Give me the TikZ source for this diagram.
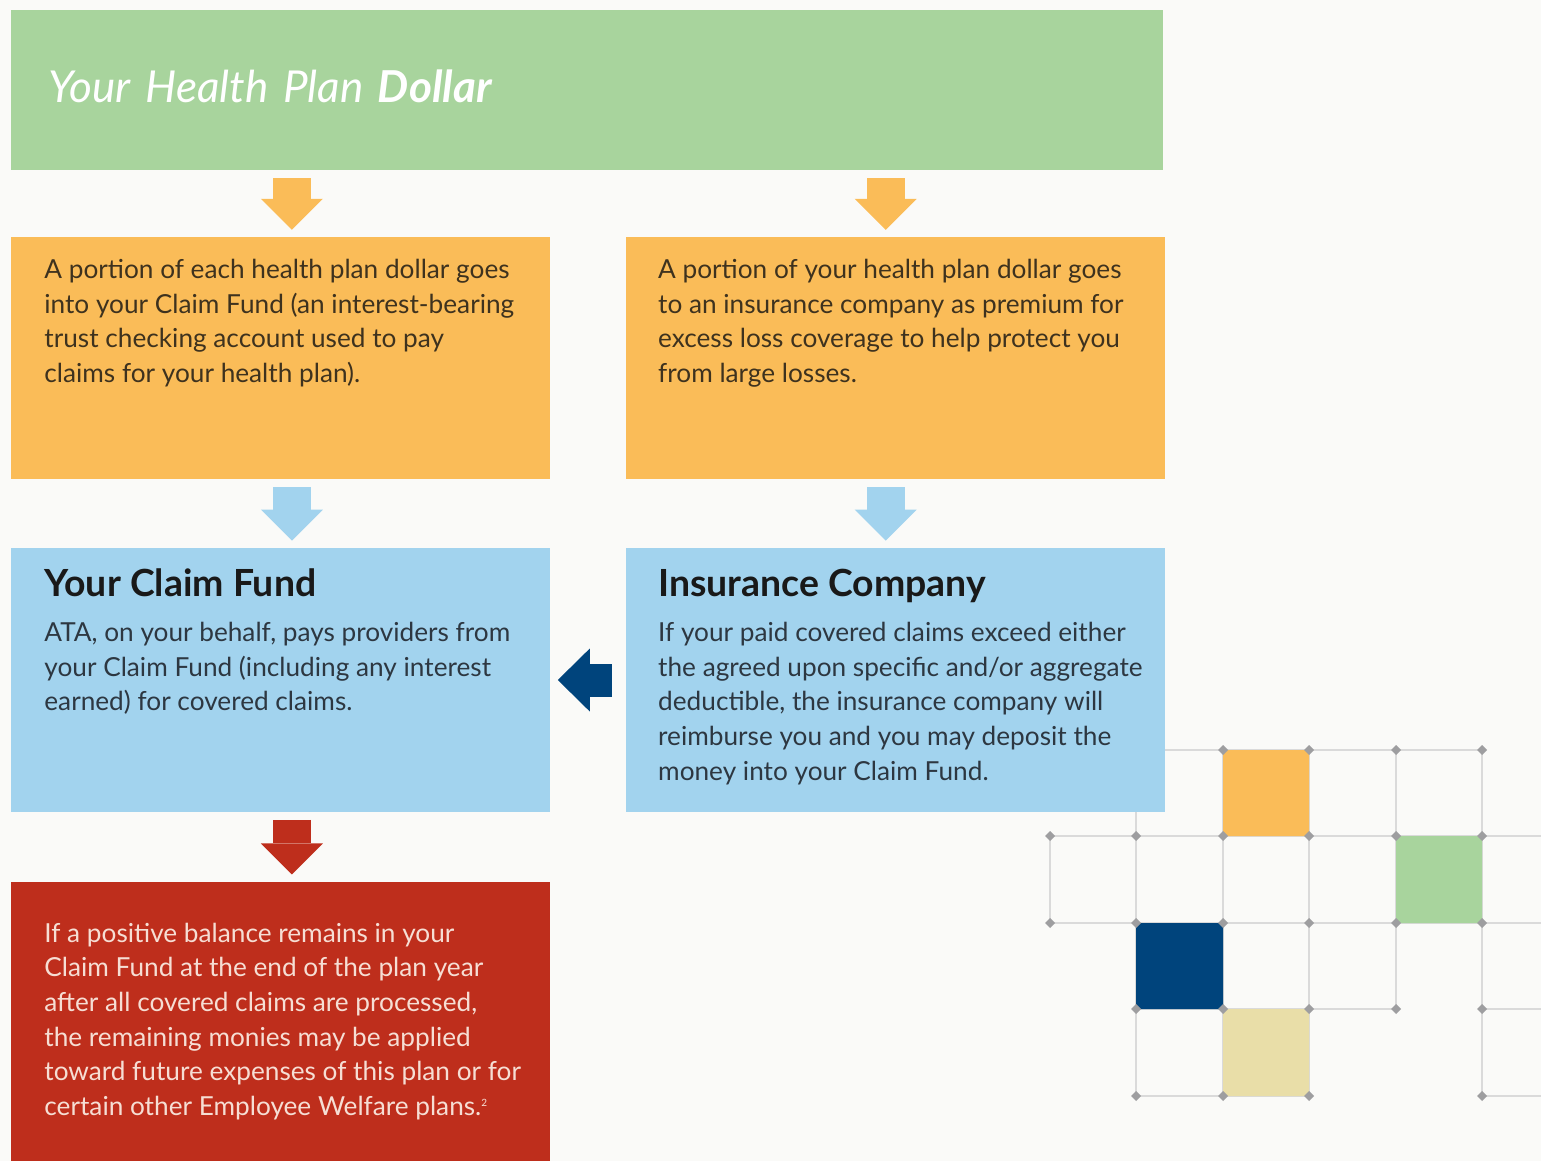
\documentclass[tikz,border=0pt]{standalone}
\usepackage{fontspec}
\setmainfont{Lato}
\usetikzlibrary{positioning,arrows.meta}

\definecolor{paper}{RGB}{250,250,248}
\definecolor{plangreen}{RGB}{168,212,157}
\definecolor{shareorange}{RGB}{250,188,88}
\definecolor{poolblue}{RGB}{162,211,238}
\definecolor{navy}{RGB}{0,68,124}
\definecolor{claimred}{RGB}{190,46,28}
\definecolor{beige}{RGB}{233,222,168}
\definecolor{shareink}{RGB}{62,50,30}
\definecolor{poolink}{RGB}{45,55,65}
\definecolor{redink}{RGB}{246,222,212}
\definecolor{gridline}{RGB}{218,218,218}
\definecolor{gridmark}{RGB}{158,158,160}

\begin{document}
\begin{tikzpicture}[
		x=0.5pt, y=-0.5pt,
		box/.style={rectangle, inner sep=0pt, minimum width=269.5pt},
		share/.style={box, fill=shareorange, minimum height=121pt},
		pool/.style={box, fill=poolblue, minimum height=132pt},
		titlebox/.style={rectangle, fill=plangreen, inner ysep=0pt, inner xsep=18.5pt, text width=539pt, align=left, minimum height=80pt, text height=15pt, text depth=3pt, text=white, font=\itshape\fontsize{22}{24}\selectfont},
		body/.style={inner sep=0pt, align=left, font=\fontsize{13.1}{17.35}\selectfont},
		head/.style={inner sep=0pt, font=\bfseries\fontsize{18.7}{21}\selectfont, text=black!90},
		flow/.style={line width=19pt, -{Triangle[width=31pt,length=15.5pt,line width=0pt]}, shorten <=3.75pt, shorten >=3.5pt},
		]
		
		% page
		\fill[paper] (0,0) rectangle (1541,1161);
		\useasboundingbox (0,0) rectangle (1541,1161);
		
		% grid in the corner
		\begin{scope}[draw=gridline, line width=1pt]
			\draw (1136,750) -- (1482,750);
			\draw (1050,836) -- (1541,836);
			\draw (1050,923) -- (1541,923);
			\draw (1136,1009) -- (1396,1009) (1482,1009) -- (1541,1009);
			\draw (1136,1096) -- (1309,1096) (1482,1096) -- (1541,1096);
			\draw (1050,836) -- (1050,923);
			\draw (1136,700) -- (1136,1096);
			\draw (1223,750) -- (1223,1096);
			\draw (1309,750) -- (1309,1096);
			\draw (1396,750) -- (1396,1009);
			\draw (1482,750) -- (1482,1096);
		\end{scope}
		\fill[shareorange, rounded corners=2pt] (1223,750) rectangle (1309,836);
		\fill[plangreen, rounded corners=2pt] (1396,836) rectangle (1482,923);
		\fill[navy, rounded corners=2pt] (1136,923) rectangle (1223,1009);
		\fill[beige, rounded corners=2pt] (1223,1009) rectangle (1309,1096);
		\foreach \x/\y in {1223/750,1309/750,1396/750,1482/750,
			1050/836,1136/836,1223/836,1309/836,1396/836,1482/836,
			1050/923,1136/923,1223/923,1309/923,1396/923,1482/923,
			1136/1009,1223/1009,1309/1009,1396/1009,1482/1009,
			1136/1096,1223/1096,1309/1096,1482/1096}
			\fill[gridmark] (\x,\y) +(-5,0) -- +(0,-5) -- +(5,0) -- +(0,5) -- cycle;
		
		% Boxes
		\node[titlebox, anchor=north west] (dollar) at (11,10) {Your Health Plan \textbf{Dollar}};
		\node[share, below=33pt of dollar.south west, anchor=north west] (claimshare) {};
		\node[share, right=37.5pt of claimshare] (premium) {};
		\node[pool, below=34pt of claimshare] (fund) {};
		\node[pool, right=37.5pt of fund] (insurer) {};
		\node[box, fill=claimred, minimum height=141pt, below=34.5pt of fund] (surplus) {};
		
		% Texts
		\node[body, text=shareink, anchor=north west] (claimshare-text) at ([shift={(16.5pt,-11pt)}]claimshare.north west)
			{A portion of each health plan dollar goes\\into your Claim Fund (an interest-bearing\\trust checking account used to pay\\claims for your health plan).};
		\node[body, text=shareink, anchor=north west] (premium-text) at ([shift={(16pt,-11pt)}]premium.north west)
			{A portion of your health plan dollar goes\\to an insurance company as premium for\\excess loss coverage to help protect you\\from large losses.};
		\node[head, anchor=north west] (fund-head) at ([shift={(16.5pt,-10.5pt)}]fund.north west) {Your Claim Fund};
		\node[body, text=poolink, anchor=north west] (fund-text) at ([shift={(16.5pt,-37pt)}]fund.north west)
			{ATA, on your behalf, pays providers from\\your Claim Fund (including any interest\\earned) for covered claims.};
		\node[head, anchor=north west] (insurer-head) at ([shift={(16pt,-10.5pt)}]insurer.north west) {Insurance Company};
		\node[body, text=poolink, anchor=north west] (insurer-text) at ([shift={(16pt,-37pt)}]insurer.north west)
			{If your paid covered claims exceed either\\the agreed upon specific and/or aggregate\\deductible, the insurance company will\\reimburse you and you may deposit the\\money into your Claim Fund.};
		\node[body, text=redink, anchor=north west] (surplus-text) at ([shift={(16.5pt,-20.5pt)}]surplus.north west)
			{If a positive balance remains in your\\Claim Fund at the end of the plan year\\after all covered claims are processed,\\the remaining monies may be applied\\toward future expenses of this plan or for\\certain other Employee Welfare plans.\textsuperscript{\tiny 2}};
		
		% Arrows
		\coordinate (lane-l) at ([xshift=5.5pt]claimshare.north);
		\coordinate (lane-r) at ([xshift=-5pt]premium.north);
		\draw[flow, shareorange] (dollar.south -| lane-l) -- (lane-l);
		\draw[flow, shareorange] (dollar.south -| lane-r) -- (lane-r);
		\draw[flow, poolblue] (claimshare.south -| lane-l) -- (fund.north -| lane-l);
		\draw[flow, poolblue] (premium.south -| lane-r) -- (insurer.north -| lane-r);
		\draw[flow, claimred] (fund.south -| lane-l) -- (surplus.north -| lane-l);
		\draw[flow, navy, line width=16.5pt, -{Triangle[width=31.5pt,length=16pt,line width=0pt]}, shorten <=7pt, shorten >=3.5pt] (insurer) -- (fund);
		
	\end{tikzpicture}
\end{document}
